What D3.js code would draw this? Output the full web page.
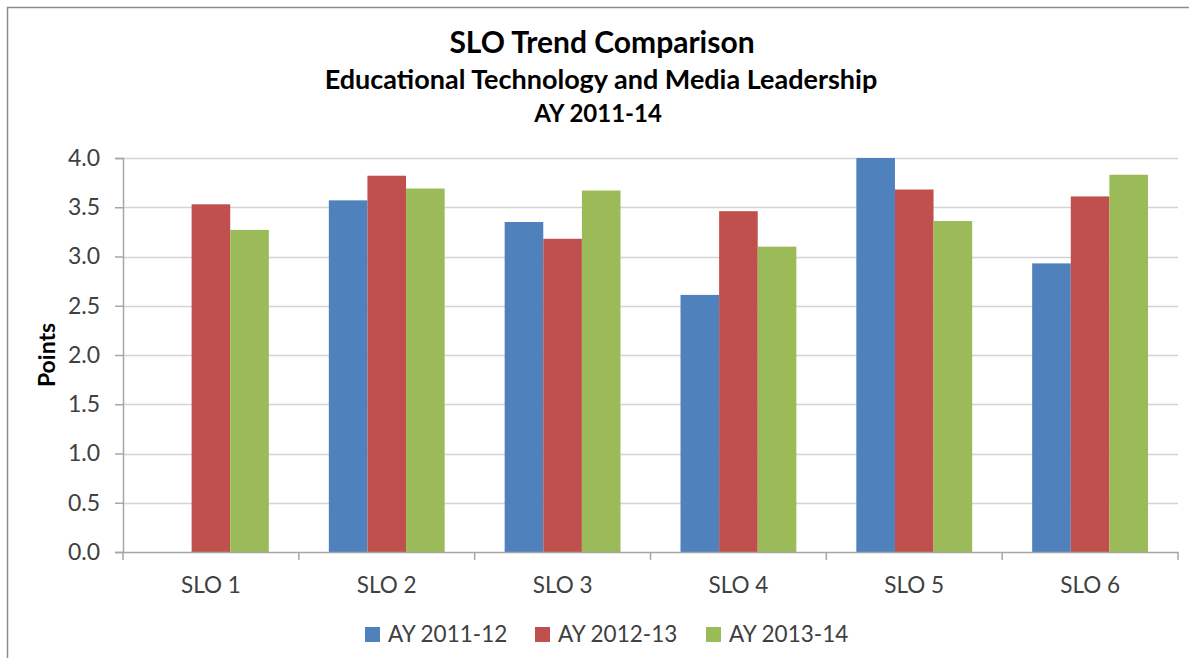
<!DOCTYPE html>
<html>
<head>
<meta charset="utf-8">
<script src="https://cdn.jsdelivr.net/npm/d3@7"></script>
<style>
  body { margin: 0; background: #fff; }
  svg { display: block; font-family: Lato, "Open Sans", sans-serif; }
  .grid line { stroke: #d4d4d4; }
  .axis path, .axis line { stroke: #a6a6a6; }
  .axis text { fill: #404040; font-family: Lato, "Open Sans", sans-serif; }
</style>
</head>
<body>
<div id="chart"></div>
<script>
var categories = ["SLO 1", "SLO 2", "SLO 3", "SLO 4", "SLO 5", "SLO 6"];
var seriesNames = ["AY 2011-12", "AY 2012-13", "AY 2013-14"];
var ay1112 = [null, 3.57, 3.35, 2.61, 4.00, 2.93];
var ay1213 = [3.53, 3.82, 3.18, 3.46, 3.68, 3.61];
var ay1314 = [3.27, 3.69, 3.67, 3.10, 3.36, 3.83];
var yTicks = [0, 0.5, 1.0, 1.5, 2.0, 2.5, 3.0, 3.5, 4.0];
var colors = ["#4f81bd", "#c0504d", "#9bbb59"];

var seriesValues = [ay1112, ay1213, ay1314];

var width = 1189, height = 658;
var margin = {top: 158, right: 11, bottom: 106, left: 123};
var plotW = width - margin.left - margin.right,
    plotH = height - margin.top - margin.bottom;

var svg = d3.select("#chart").append("svg")
    .attr("width", width)
    .attr("height", height);

// outer frame
svg.append("rect")
    .attr("x", 7.5).attr("y", 7.5)
    .attr("width", 1200).attr("height", 700)
    .attr("fill", "none")
    .attr("stroke", "#8c8c8c")
    .attr("stroke-width", 1.5);

// titles
svg.append("text")
    .attr("x", 602).attr("y", 53)
    .attr("text-anchor", "middle")
    .style("font-size", "30px").style("font-weight", "bold").style("fill", "#000")
    .text("SLO Trend Comparison");
svg.append("text")
    .attr("x", 601).attr("y", 89)
    .attr("text-anchor", "middle")
    .style("font-size", "27px").style("font-weight", "bold").style("fill", "#000")
    .text("Educational Technology and Media Leadership");
svg.append("text")
    .attr("x", 598).attr("y", 122)
    .attr("text-anchor", "middle")
    .style("font-size", "24px").style("font-weight", "bold").style("fill", "#000")
    .text("AY 2011-14");

var main = svg.append("g")
    .attr("transform", "translate(" + margin.left + "," + margin.top + ")");

var x0 = d3.scaleBand()
    .domain(categories)
    .range([0, plotW])
    .paddingInner(0)
    .paddingOuter(0);

var x1 = d3.scaleBand()
    .domain(d3.range(seriesNames.length))
    .range([30, x0.bandwidth() - 30]);

var y = d3.scaleLinear()
    .domain([0, 4])
    .range([plotH, 0]);

// gridlines
main.append("g")
    .attr("class", "grid")
    .selectAll("line")
    .data(yTicks.slice(1))
    .enter().append("line")
    .attr("x1", 0).attr("x2", plotW)
    .attr("y1", function(d) { return Math.round(y(d)) + 0.5; })
    .attr("y2", function(d) { return Math.round(y(d)) + 0.5; })
    .style("stroke-width", 1.5);

// bars
var groups = main.selectAll(".group")
    .data(categories)
    .enter().append("g")
    .attr("class", "group")
    .attr("transform", function(d) { return "translate(" + x0(d) + ",0)"; });

groups.selectAll("rect")
    .data(function(d, i) {
        return seriesValues.map(function(s, k) { return {k: k, v: s[i]}; })
            .filter(function(e) { return e.v != null; });
    })
    .enter().append("rect")
    .attr("x", function(d) { return x1(d.k); })
    .attr("width", x1.bandwidth())
    .attr("y", function(d) { return y(d.v); })
    .attr("height", function(d) { return plotH - y(d.v); })
    .attr("fill", function(d) { return colors[d.k]; });

// y axis
var yAxis = d3.axisLeft(y)
    .tickValues(yTicks)
    .tickSize(8)
    .tickPadding(15)
    .tickFormat(d3.format(".1f"));

main.append("g")
    .attr("class", "axis")
    .call(yAxis)
    .call(function(g) {
        g.selectAll("path, line").style("stroke-width", 1.5);
        g.selectAll("text").style("font-size", "23px");
    });

// x axis
var xAxis = d3.axisBottom(x0)
    .tickSize(0)
    .tickPadding(25);

var xg = main.append("g")
    .attr("class", "axis")
    .attr("transform", "translate(0," + plotH + ")")
    .call(xAxis);
xg.select(".domain").style("stroke-width", 1.5);
xg.selectAll("text").style("font-size", "22.5px");
xg.selectAll(".ctick")
    .data(d3.range(categories.length + 1))
    .enter().append("line")
    .attr("class", "ctick")
    .attr("x1", function(i) { return i * x0.step(); })
    .attr("x2", function(i) { return i * x0.step(); })
    .attr("y1", 0).attr("y2", 8)
    .style("stroke-width", 1.5);

// y label
svg.append("text")
    .attr("transform", "translate(55,355) rotate(-90)")
    .attr("text-anchor", "middle")
    .style("font-size", "23px").style("font-weight", "bold").style("fill", "#000")
    .text("Points");

// legend
var legendX = [365, 535, 706];
var legend = svg.selectAll(".legend")
    .data(seriesNames)
    .enter().append("g")
    .attr("class", "legend")
    .attr("transform", function(d, i) { return "translate(" + legendX[i] + ",627)"; });
legend.append("rect")
    .attr("width", 15).attr("height", 15)
    .attr("fill", function(d, i) { return colors[i]; });
legend.append("text")
    .attr("x", 23).attr("y", 15)
    .style("font-size", "22.5px").style("fill", "#404040")
    .text(function(d) { return d; });
</script>
</body>
</html>
